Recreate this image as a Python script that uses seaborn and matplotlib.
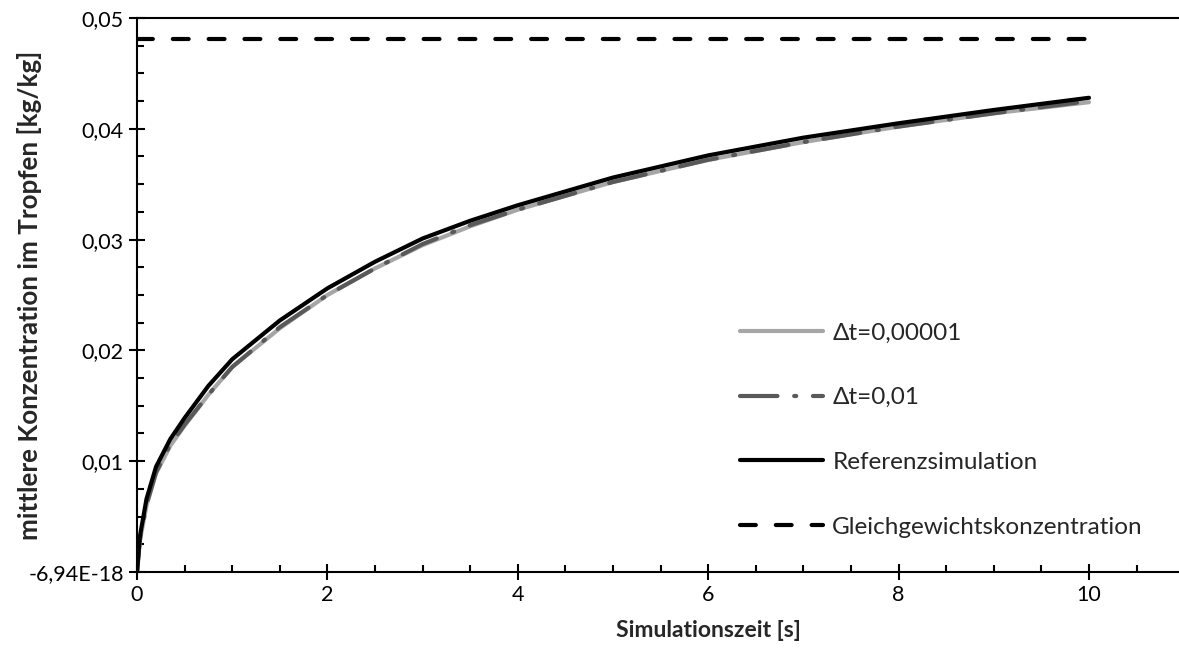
import numpy as np
import pandas as pd
import matplotlib
matplotlib.use("Agg")
import matplotlib.pyplot as plt
from matplotlib.ticker import FixedLocator, FixedFormatter, MultipleLocator
import seaborn as sns

# ---- data ----
t = [0, 0.03, 0.1, 0.2, 0.35, 0.5, 0.75, 1.0, 1.5, 2.0, 2.5, 3.0, 3.5, 4.0,
     5.0, 6.0, 7.0, 8.0, 9.0, 10.0]
c_dt_00001 = [0, 0.0028, 0.0060, 0.0089, 0.0114, 0.0132, 0.0160, 0.0185, 0.0220,
              0.0250, 0.0274, 0.0295, 0.0312, 0.0327, 0.0352, 0.0372, 0.0388,
              0.0402, 0.0414, 0.0424]
c_dt_001 = [0, 0.0029, 0.0061, 0.0090, 0.0115, 0.0133, 0.0160, 0.0185, 0.0221,
            0.0250, 0.0274, 0.0296, 0.0313, 0.0327, 0.0352, 0.0372, 0.0388,
            0.0402, 0.0414, 0.0425]
c_ref = [0, 0.0032, 0.0066, 0.0095, 0.0120, 0.0139, 0.0168, 0.0192, 0.0227,
         0.0256, 0.0280, 0.0301, 0.0317, 0.0331, 0.0356, 0.0376, 0.0392,
         0.0405, 0.0417, 0.0428]
t_eq = [0, 10]
c_eq = [0.0481, 0.0481]

series_names = ["Δt=0,00001", "Δt=0,01", "Referenzsimulation", "Gleichgewichtskonzentration"]
y_ticks = [-6.94e-18, 0.01, 0.02, 0.03, 0.04, 0.05]
y_tick_labels = ["-6,94E-18", "0,01", "0,02", "0,03", "0,04", "0,05"]
x_ticks = [0, 2, 4, 6, 8, 10]
x_tick_labels = ["0", "2", "4", "6", "8", "10"]

sns.set_style("ticks")
plt.rcParams["font.family"] = ["Lato", "DejaVu Sans"]

W, H = 1179, 650
fig = plt.figure(figsize=(W / 100, H / 100), dpi=100)
# plot area: x=0 at px 137, 95.2 px per unit, axis runs to 12 (beyond the image)
ax_w = 12 * 95.2
ax = fig.add_axes([137 / W, 78 / H, ax_w / W, 554 / H])

df1 = pd.DataFrame({"t": t, "c": c_dt_00001})
df2 = pd.DataFrame({"t": t, "c": c_dt_001})
df3 = pd.DataFrame({"t": t, "c": c_ref})
df4 = pd.DataFrame({"t": t_eq, "c": c_eq})

lw = 3.0
sns.lineplot(data=df1, x="t", y="c", ax=ax, color="#a6a6a6", lw=lw,
             solid_capstyle="round", label=series_names[0])
l2 = sns.lineplot(data=df2, x="t", y="c", ax=ax, color="#595959", lw=lw,
                  label=series_names[1]).lines[-1]
l2.set_dashes((9, 4, 0.5, 4))
l2.set_dash_capstyle("round")
sns.lineplot(data=df3, x="t", y="c", ax=ax, color="black", lw=lw,
             solid_capstyle="round", label=series_names[2])
l4 = sns.lineplot(data=df4, x="t", y="c", ax=ax, color="black", lw=lw,
                  label=series_names[3]).lines[-1]
l4.set_dashes((3.8, 4.8))
l4.set_dash_capstyle("round")

ax.set_xlim(0, 12)
ax.set_ylim(-6.94e-18, 0.05)

ax.xaxis.set_major_locator(FixedLocator(x_ticks))
ax.xaxis.set_major_formatter(FixedFormatter(x_tick_labels))
ax.xaxis.set_minor_locator(MultipleLocator(0.5))
ax.yaxis.set_major_locator(FixedLocator(y_ticks))
ax.yaxis.set_major_formatter(FixedFormatter(y_tick_labels))
ax.yaxis.set_minor_locator(MultipleLocator(0.0025))

ax.tick_params(which="major", direction="inout", length=11, width=1.5,
               labelsize=15.5, color="black", labelcolor="black", pad=4)
ax.tick_params(which="minor", direction="in", length=5, width=1.5, color="black")

for s in ["left", "bottom", "top"]:
    ax.spines[s].set_linewidth(1.5)
    ax.spines[s].set_color("black")
ax.spines["right"].set_visible(False)

ax.set_xlabel("Simulationszeit [s]", fontsize=16.5, fontweight="bold", labelpad=11)
ax.set_ylabel("mittlere Konzentration im Tropfen [kg/kg]", fontsize=18.7,
              fontweight="bold")
ax.yaxis.set_label_coords((42 - 137) / ax_w, 0.5)

leg = ax.legend(loc="center left", bbox_to_anchor=(740 / W, 1 - 430 / H),
                bbox_transform=fig.transFigure, frameon=False, fontsize=17.5,
                handlelength=3.4, handletextpad=0.4, labelspacing=1.8,
                borderpad=0, borderaxespad=0)
for h in leg.get_lines():
    h.set_linewidth(lw)

fig.savefig("out.png", dpi=100)
